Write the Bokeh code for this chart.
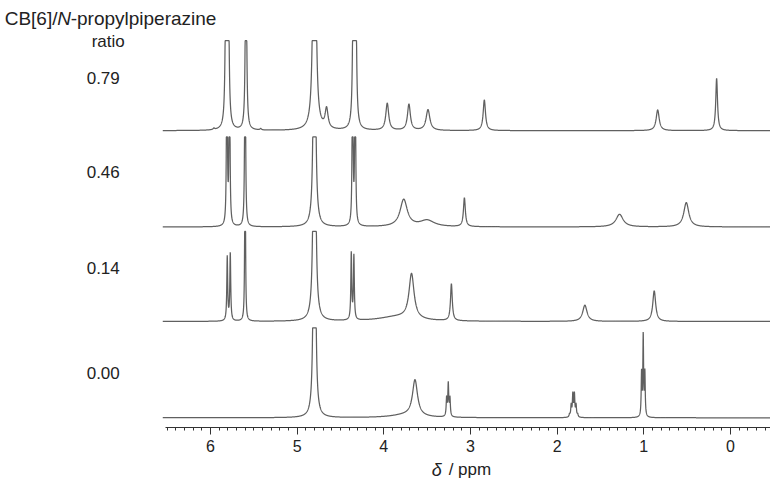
import numpy as np
from bokeh.plotting import figure
from bokeh.layouts import column
from bokeh.models import Range1d, Label, SingleIntervalTicker, ColumnDataSource
from bokeh.embed import file_html
from bokeh.resources import INLINE

# ---------------- data ----------------
ratio_labels = ["0.00", "0.14", "0.46", "0.79"]
offsets = [0.0, 1.07, 2.12, 3.19]          # vertical stacking of spectra
label_y = [0.50, 1.66, 2.73, 3.77]          # where the ratio labels sit

# peak lists: chemical shift (ppm), intensity, half-width (ppm)
s000_shift = [4.80, 3.64, 3.75, 3.275, 3.256, 3.237,
              1.857, 1.838, 1.819, 1.801, 1.782, 1.763,
              1.026, 1.007, 0.988]
s000_height = [8.0, 0.40, 0.03, 0.20, 0.36, 0.20,
               0.03, 0.13, 0.25, 0.25, 0.13, 0.03,
               0.48, 0.90, 0.48]
s000_width = [0.008, 0.035, 0.20, 0.006, 0.006, 0.006,
              0.006, 0.006, 0.006, 0.006, 0.006, 0.006,
              0.005, 0.005, 0.005]

s014_shift = [5.806, 5.771, 5.60, 4.80, 4.375, 4.345, 3.68, 3.85, 3.22, 1.68, 0.88]
s014_height = [0.71, 0.75, 3.0, 6.0, 0.74, 0.71, 0.50, 0.05, 0.41, 0.18, 0.34]
s014_width = [0.006, 0.006, 0.004, 0.010, 0.006, 0.006, 0.035, 0.25, 0.012, 0.030, 0.020]

s046_shift = [5.81, 5.78, 5.60, 4.80, 4.36, 4.33, 3.77, 3.50, 3.07, 1.28, 0.51]
s046_height = [3.0, 3.0, 3.0, 5.0, 3.0, 3.0, 0.30, 0.07, 0.32, 0.14, 0.27]
s046_width = [0.0045, 0.0045, 0.005, 0.010, 0.0045, 0.0045, 0.050, 0.10, 0.013, 0.050, 0.035]

s079_shift = [5.96, 5.82, 5.795, 5.59, 5.42, 4.80, 4.66, 4.35, 4.325,
              3.96, 3.71, 3.49, 2.84, 0.84, 0.16]
s079_height = [0.015, 2.5, 2.5, 3.0, 0.015, 6.0, 0.22, 2.5, 2.5,
               0.30, 0.29, 0.23, 0.34, 0.23, 0.58]
s079_width = [0.010, 0.008, 0.008, 0.007, 0.010, 0.012, 0.020, 0.008, 0.008,
              0.020, 0.020, 0.026, 0.016, 0.021, 0.012]

peak_tables = [
    (s000_shift, s000_height, s000_width),
    (s014_shift, s014_height, s014_width),
    (s046_shift, s046_height, s046_width),
    (s079_shift, s079_height, s079_width),
]

axis_min, axis_max = -0.46, 6.52   # extent of the drawn ppm axis

# ---------------- main figure ----------------
xr = Range1d(8.422, -0.4615)
p = figure(width=770, height=457, output_backend="svg", toolbar_location=None,
           x_range=xr, y_range=Range1d(-0.108, 4.636),
           y_axis_location=None, min_border_left=0, min_border_right=0,
           min_border_top=0, min_border_bottom=30)
p.outline_line_color = None
p.xgrid.visible = False
p.ygrid.visible = False
p.background_fill_color = "white"
p.border_fill_color = "white"

ppm = np.arange(axis_max + 0.03, axis_min - 0.04, -0.0015)
clip_level = 1.0
for (shifts, heights, widths), off in zip(peak_tables, offsets):
    y = np.zeros_like(ppm)
    for c, h, w in zip(shifts, heights, widths):
        y += h / (1.0 + ((ppm - c) / w) ** 2)
    y = np.minimum(y, clip_level) + off
    src = ColumnDataSource(dict(x=ppm, y=y))
    p.line("x", "y", source=src, line_color="#606060", line_width=1.25)

ax = p.xaxis[0]
ax.bounds = (axis_min, axis_max)
ax.ticker = SingleIntervalTicker(interval=1, num_minor_ticks=10)
ax.axis_line_color = "#333333"
ax.major_tick_line_color = "#333333"
ax.minor_tick_line_color = "#333333"
ax.major_tick_in = 0
ax.major_tick_out = 7
ax.minor_tick_in = 0
ax.minor_tick_out = 3
ax.major_label_standoff = 5
ax.major_label_text_font = "Liberation Sans"
ax.major_label_text_font_size = "16px"
ax.major_label_text_color = "#222222"

FONT = "Liberation Sans"
LABEL_X = 8.42   # left edge of the figure in ppm units; offsets below are in px
for txt, ly in zip(ratio_labels, label_y):
    p.add_layout(Label(x=LABEL_X, y=ly, x_offset=86, text=txt, text_align="left",
                       text_baseline="middle", text_font=FONT, text_font_size="17px",
                       text_color="#222222"))

# title pieces (CB[6]/N-propylpiperazine with italic N)
title_parts = [("CB[6]/", "normal", 4), ("N", "italic", 56.5), ("-propylpiperazine", "normal", 70)]
for txt, style, dx in title_parts:
    p.add_layout(Label(x=LABEL_X, y=4.437, x_offset=dx, text=txt, text_align="left",
                       text_baseline="middle", text_font=FONT, text_font_size="19px",
                       text_font_style=style, text_color="#222222"))
p.add_layout(Label(x=LABEL_X, y=4.18, x_offset=91, text="ratio", text_align="left",
                   text_baseline="middle", text_font=FONT, text_font_size="17px",
                   text_color="#222222"))

# ---------------- strip below for the axis title ----------------
b = figure(width=770, height=21, output_backend="svg", toolbar_location=None,
           x_range=xr, y_range=Range1d(0, 21), x_axis_location=None, y_axis_location=None,
           min_border_left=0, min_border_right=0, min_border_top=0, min_border_bottom=0)
b.outline_line_color = None
b.xgrid.visible = False
b.ygrid.visible = False
b.background_fill_color = "white"
b.border_fill_color = "white"
b.add_layout(Label(x=LABEL_X, y=9, x_offset=431, text="\u03b4", text_align="left",
                   text_baseline="middle", text_font=FONT, text_font_size="18px",
                   text_font_style="italic", text_color="#222222"))
b.add_layout(Label(x=LABEL_X, y=9, x_offset=448, text="/ ppm", text_align="left",
                   text_baseline="middle", text_font=FONT, text_font_size="17px",
                   text_color="#222222"))

layout = column(p, b, spacing=0)
open("out.html", "w").write(file_html(layout, INLINE))
